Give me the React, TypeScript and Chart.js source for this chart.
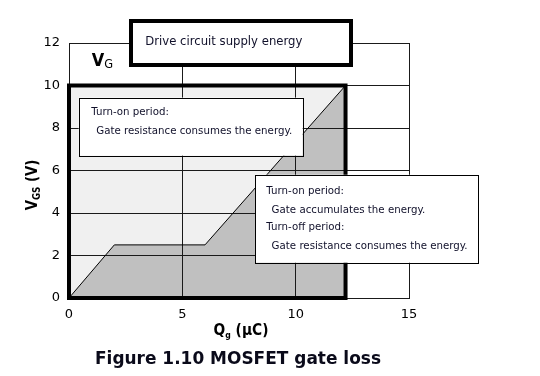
import React, { useEffect, useRef } from "react";
import { Chart, registerables } from "chart.js";

Chart.register(...registerables);

// ---- data ----
const xTickValues = [0, 5, 10, 15];
const yTickValues = [0, 2, 4, 6, 8, 10, 12];
const gateCharge = [0, 2, 6, 12.2]; // Qg (µC)
const gateVoltage = [0, 2.5, 2.5, 10]; // VGS (V)
const supplyCharge = [0, 12.2];
const supplyVoltage = [10, 10]; // VG
const frameCharge = [0, 0, 12.2, 12.2, 0];
const frameVoltage = [0, 10, 10, 0, 0];

const FONT = '"DejaVu Sans", Verdana, sans-serif';

const toPts = (xs: number[], ys: number[]) => xs.map((x, i) => ({ x, y: ys[i] }));

export default function App() {
  const ref = useRef<HTMLCanvasElement>(null);

  useEffect(() => {
    const canvas = ref.current!;

    const condensedText = (
      ctx: CanvasRenderingContext2D,
      text: string,
      x: number,
      y: number,
      k: number
    ) => {
      ctx.save();
      ctx.translate(x, y);
      ctx.scale(k, 1);
      ctx.fillText(text, 0, 0);
      ctx.restore();
    };

    type Part = { t: string; font: string; dy: number };
    const richWidth = (ctx: CanvasRenderingContext2D, parts: Part[], k: number) =>
      parts.reduce((w, p) => {
        ctx.font = p.font;
        return w + ctx.measureText(p.t).width * k;
      }, 0);
    const drawRich = (
      ctx: CanvasRenderingContext2D,
      parts: Part[],
      x: number,
      y: number,
      k: number
    ) => {
      let cx = x;
      for (const p of parts) {
        ctx.font = p.font;
        condensedText(ctx, p.t, cx, y + p.dy, k);
        cx += ctx.measureText(p.t).width * k;
      }
    };

    const annotate = {
      id: "annotate",
      afterDraw(chart: any) {
        const ctx: CanvasRenderingContext2D = chart.ctx;
        const xs = chart.scales.x;
        const ys = chart.scales.y;
        const px = (v: number) => xs.getPixelForValue(v);
        const py = (v: number) => ys.getPixelForValue(v);

        ctx.save();
        ctx.textBaseline = "middle";
        ctx.textAlign = "left";
        ctx.fillStyle = "#000";

        const boxFont = `11px ${FONT}`;
        ctx.font = boxFont;
        const kBox = 196 / ctx.measureText("Gate resistance consumes the energy.").width;

        const drawBox = (
          x0: number,
          y0: number,
          x1: number,
          y1: number,
          lw: number,
          lines: { t: string; dx: number; dy: number }[],
          font: string,
          k: number
        ) => {
          const l = px(x0), t = py(y0), r = px(x1), b = py(y1);
          ctx.fillStyle = "#fff";
          ctx.fillRect(l, t, r - l, b - t);
          ctx.strokeStyle = "#000";
          ctx.lineWidth = lw;
          ctx.lineJoin = "miter";
          const o = lw % 2 === 1 ? 0.5 : 0;
          ctx.strokeRect(Math.round(l) + o, Math.round(t) + o, Math.round(r - l), Math.round(b - t));
          ctx.fillStyle = "#10102a";
          ctx.font = font;
          for (const ln of lines) condensedText(ctx, ln.t, l + ln.dx, t + ln.dy, k);
        };

        drawBox(0.43, 9.43, 10.31, 6.7, 1, [
          { t: "Turn-on period:", dx: 12.5, dy: 15 },
          { t: "Gate resistance consumes the energy.", dx: 17.5, dy: 33.5 },
        ], boxFont, kBox);

        drawBox(8.22, 5.8, 18.07, 1.66, 1, [
          { t: "Turn-on period:", dx: 11, dy: 16.5 },
          { t: "Gate accumulates the energy.", dx: 16.3, dy: 35 },
          { t: "Turn-off period:", dx: 11, dy: 52.5 },
          { t: "Gate resistance consumes the energy.", dx: 16.3, dy: 71 },
        ], boxFont, kBox);

        const driveFont = `13px ${FONT}`;
        ctx.font = driveFont;
        const kDrive = 157 / ctx.measureText("Drive circuit supply energy").width;
        drawBox(2.75, 13.05, 12.47, 11.0, 4, [
          { t: "Drive circuit supply energy", dx: 14, dy: 20.5 },
        ], driveFont, kDrive);

        ctx.fillStyle = "#000";
        ctx.textBaseline = "alphabetic";

        // VG label
        const vgParts: Part[] = [
          { t: "V", font: `bold 17px ${FONT}`, dy: 0 },
          { t: "G", font: `12px ${FONT}`, dy: 1.5 },
        ];
        drawRich(ctx, vgParts, px(1.0), py(10.9), 0.95);

        // x axis title
        const xt: Part[] = [
          { t: "Q", font: `bold 16px ${FONT}`, dy: 0 },
          { t: "g", font: `bold 9px ${FONT}`, dy: 3 },
          { t: " (µC)", font: `bold 16px ${FONT}`, dy: 0 },
        ];
        const kx = 0.86;
        const wx = richWidth(ctx, xt, kx);
        drawRich(ctx, xt, 241 - wx / 2, 335, kx);

        // y axis title (rotated)
        const yt: Part[] = [
          { t: "V", font: `bold 15px ${FONT}`, dy: 0 },
          { t: "GS", font: `bold 10px ${FONT}`, dy: 3 },
          { t: " (V)", font: `bold 15px ${FONT}`, dy: 0 },
        ];
        const ky = 0.88;
        const wy = richWidth(ctx, yt, ky);
        ctx.save();
        ctx.translate(37, 185);
        ctx.rotate(-Math.PI / 2);
        drawRich(ctx, yt, -wy / 2, 0, ky);
        ctx.restore();

        // caption
        const cap = "Figure 1.10 MOSFET gate loss";
        ctx.font = `bold 17px ${FONT}`;
        const kc = 286 / ctx.measureText(cap).width;
        ctx.fillStyle = "#0a0a1a";
        condensedText(ctx, cap, 95, 364, kc);

        ctx.restore();
      },
    };

    const chart = new Chart(canvas, {
      type: "scatter",
      data: {
        datasets: [
          {
            label: "frame",
            data: toPts(frameCharge, frameVoltage),
            showLine: true,
            borderColor: "#000",
            borderWidth: 4,
            borderJoinStyle: "miter",
            borderCapStyle: "square",
            pointRadius: 0,
            fill: false,
            clip: false,
            order: 0,
          } as any,
          {
            label: "gate",
            data: toPts(gateCharge, gateVoltage),
            showLine: true,
            borderColor: "#000",
            borderWidth: 1,
            backgroundColor: "#c0c0c0",
            pointRadius: 0,
            fill: "origin",
            order: 1,
          } as any,
          {
            label: "supply",
            data: toPts(supplyCharge, supplyVoltage),
            showLine: true,
            borderWidth: 0,
            borderColor: "rgba(0,0,0,0)",
            backgroundColor: "#f0f0f0",
            pointRadius: 0,
            fill: "origin",
            order: 2,
          } as any,
        ],
      },
      options: {
        responsive: false,
        animation: false,
        events: [],
        layout: { padding: { left: 0, right: 131, top: 43, bottom: 0 } },
        plugins: {
          legend: { display: false },
          tooltip: { enabled: false },
          filler: { drawTime: "beforeDraw" } as any,
        },
        scales: {
          x: {
            type: "linear",
            min: 0,
            max: 15,
            afterFit: (s: any) => {
              s.height = 78;
            },
            afterBuildTicks: (s: any) => {
              s.ticks = xTickValues.map((v) => ({ value: v }));
            },
            grid: { color: "#1a1a1a", lineWidth: 1, drawTicks: false },
            border: { color: "#1a1a1a", width: 1 },
            ticks: {
              padding: 9,
              color: "#000",
              font: { family: FONT, size: 13 },
              maxRotation: 0,
            },
          },
          y: {
            type: "linear",
            min: 0,
            max: 12,
            afterFit: (s: any) => {
              s.width = 69;
            },
            afterBuildTicks: (s: any) => {
              s.ticks = yTickValues.map((v) => ({ value: v }));
            },
            grid: { color: "#1a1a1a", lineWidth: 1, drawTicks: false },
            border: { color: "#1a1a1a", width: 1 },
            ticks: {
              padding: 9,
              color: "#000",
              font: { family: FONT, size: 13 },
            },
          },
        },
      },
      plugins: [annotate],
    });

    return () => chart.destroy();
  }, []);

  return (
    <div
      style={{
        position: "fixed",
        left: 0,
        top: 0,
        width: 540,
        height: 376,
        background: "#fff",
      }}
    >
      <canvas ref={ref} width={540} height={376} style={{ width: 540, height: 376, display: "block" }} />
    </div>
  );
}
